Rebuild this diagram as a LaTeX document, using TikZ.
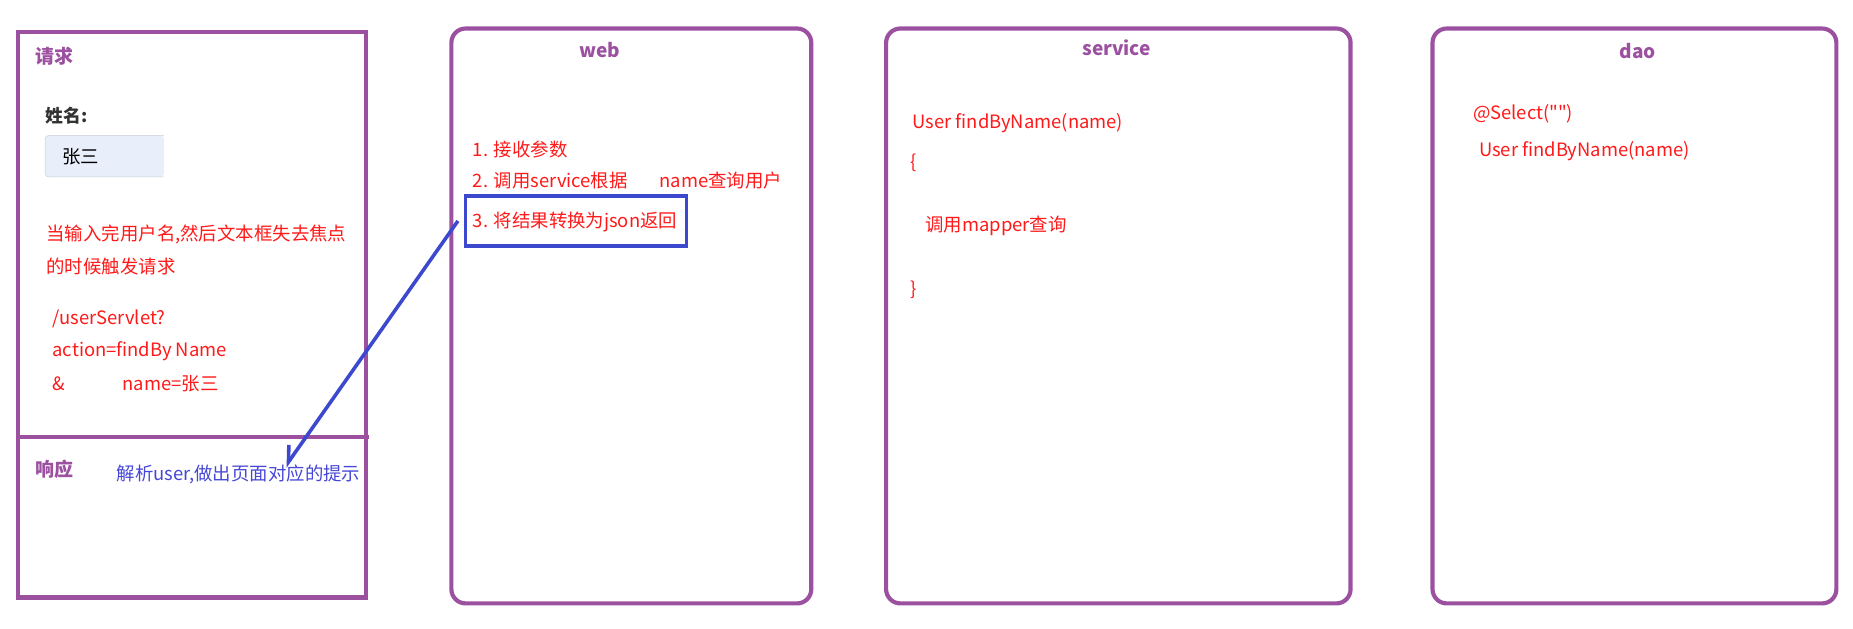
\documentclass[tikz,border=0pt]{standalone}
\usepackage{fontspec}
\setmainfont{Noto Sans CJK SC}
\newfontfamily\codefont{Noto Sans CJK SC}
\usetikzlibrary{arrows.meta}
\definecolor{boxpurple}{RGB}{155,80,160}
\definecolor{notered}{RGB}{255,25,25}
\definecolor{markblue}{RGB}{60,72,205}
\definecolor{respblue}{RGB}{70,70,215}
\definecolor{labelgray}{RGB}{51,51,51}
\definecolor{fieldfill}{RGB}{232,239,251}
\definecolor{fieldline}{RGB}{200,206,216}

\begin{document}
\begin{tikzpicture}[x=1pt,y=-1pt]
\tikzstyle{every node}+=[inner sep=0pt, anchor=west, font=\fontsize{15.5}{18}\selectfont]
\tikzstyle{layer}=[draw=boxpurple, line width=3.5pt, rounded corners=12pt]
\tikzstyle{title}=[text=boxpurple, font=\fontsize{16}{18}\selectfont\bfseries]
\tikzstyle{note}=[text=notered]
\useasboundingbox (0,0) rectangle (1560,529.5);
% browser side: request / response
\draw [boxpurple, line width=3.5pt] (15,27) rectangle (308,503);
\draw [boxpurple, line width=3.5pt] (15,368) -- (311,368);
\node [title] (reqtitle) at (30,47) {请求};
\node [text=labelgray, font=\fontsize{15}{18}\selectfont\bfseries] (namelabel) at (38,97) {姓名:};
\fill [fieldfill, rounded corners=3pt] (138,114) -- (38,114) -- (38,149) -- (138,149) -- cycle;
\draw [fieldline, rounded corners=3pt] (138,114) -- (38,114) -- (38,149) -- (138,149);
\node (fieldtext) at (52,132) {张三};
\node [note] (hint1) at (39,197) {当输入完用户名,然后文本框失去焦点};
\node [note] (hint2) at (39,224) {的时候触发请求};
\node [note] (url1) at (44,268) {/userServlet?};
\node [note] (url2) at (44,296) {action=findBy Name};
\node [note] (url3) at (44,323) {\&};
\node [note] (url4) at (103,323) {name=张三};
\node [title] (resptitle) at (30,395) {响应};
\node [text=respblue] (resphint) at (98,399) {解析user,做出页面对应的提示};
% web layer
\draw [layer] (380,24) rectangle (683,508);
\node [title, anchor=center] (webtitle) at (505,42) {web};
\node [note] (step1) at (398,126) {1. 接收参数};
\node [note] (step2) at (398,152) {2. 调用service根据};
\node [note] (step2b) at (555,152) {name查询用户};
\node [note] (step3) at (398,187) {3. 将结果转换为json返回};
\node [draw=markblue, line width=3pt, minimum width=186pt, minimum height=42pt, anchor=center] (jsonbox) at (485,186) {};
\coordinate (respend) at (240,393);
\draw [markblue, line width=3pt, -{Straight Barb[right, length=12pt, width=16pt]}] ([xshift=-5pt]jsonbox.west) -- (respend);
% service layer
\draw [layer] (746,24) rectangle (1137,508);
\node [title, anchor=center] (servicetitle) at (940,40) {service};
\node [note] (svcsig) at (768,104) {User findByName(name)};
\node [note] (svcopen) at (766,137) {\{};
\node [note] (svccall) at (779,190) {调用mapper查询};
\node [note] (svcclose) at (766,244) {\}};
% dao layer
\draw [layer] (1206,24) rectangle (1546,508);
\node [title, anchor=center] (daotitle) at (1379,43) {dao};
\node [note, font=\fontsize{15.5}{18}\codefont] (daoanno) at (1240,96) {@Select("")};
\node [note] (daosig) at (1245,127) {User findByName(name)};
\end{tikzpicture}
\end{document}
